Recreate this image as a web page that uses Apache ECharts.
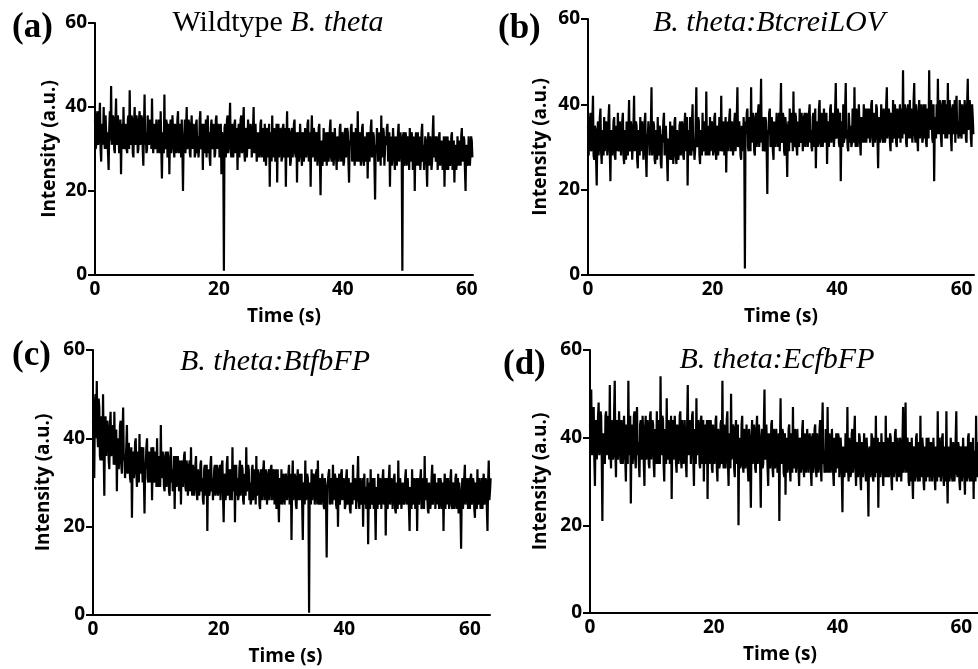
<!DOCTYPE html>
<html>
<head>
<meta charset="utf-8">
<title>Intensity traces</title>
<script src="https://cdn.jsdelivr.net/npm/echarts@6/dist/echarts.min.js"></script>
<style>
html, body { margin: 0; padding: 0; background: #fff; }
#chart { width: 978px; height: 669px; }
</style>
</head>
<body>
<div id="chart"></div>
<script>
// sampling step of every trace (s)
var DT = 0.1;
var xTicks = [0, 20, 40, 60];
var yTicks = [0, 20, 40, 60];

// (a) Wildtype B. theta
var wildtype = [
  37,30,31,38,39,31,33,37,41,30,27,36,36,31,40,32,30,38,38,30,34,29,25,35,39,
  32,45,31,32,38,37,30,29,37,42,31,33,38,38,29,31,37,24,34,36,30,40,31,30,36,
  35,30,29,37,38,30,44,32,31,38,37,29,28,36,40,31,33,38,36,29,30,37,39,31,32,
  38,37,30,26,35,43,31,34,29,30,38,38,31,32,37,36,30,42,32,29,36,35,30,31,37,
  37,29,30,37,35,29,39,30,23,33,34,29,43,30,31,37,36,28,29,36,24,34,37,29,32,
  38,38,30,28,36,35,29,31,37,39,29,30,36,34,28,37,30,20,32,33,37,29,35,40,30,
  31,37,36,29,28,35,38,30,32,36,35,28,29,36,37,29,33,28,30,37,39,30,31,36,25,
  34,36,29,33,37,28,35,38,29,34,28,26,35,37,30,31,36,35,28,29,37,38,30,32,36,
  35,28,29,36,24,34,33,29,1,35,36,28,30,37,38,29,32,36,41,30,28,36,35,28,31,
  36,37,29,29,35,25,34,36,28,33,37,38,29,30,36,40,29,27,35,34,28,31,37,37,30,
  30,36,35,28,28,35,40,29,32,36,36,27,27,34,34,28,30,36,37,28,29,35,33,27,36,
  29,26,34,35,28,31,36,21,33,34,27,38,29,28,35,33,27,30,36,22,33,36,28,31,35,
  34,27,28,35,36,28,30,35,21,32,39,28,29,35,33,26,27,34,35,28,31,36,37,29,28,
  34,22,33,34,27,30,36,36,28,26,34,33,27,29,35,35,28,31,36,37,27,28,34,21,33,
  38,28,30,35,34,27,27,34,33,26,29,35,36,27,19,31,32,26,28,35,35,27,31,34,26,
  33,34,27,30,35,37,28,27,34,32,26,29,35,35,28,25,33,33,27,30,35,36,27,28,34,
  32,26,27,34,35,28,30,35,34,27,22,32,31,35,36,27,28,34,33,26,29,35,35,27,39,
  29,27,34,32,26,30,35,36,27,26,33,33,27,29,34,23,32,34,27,31,35,37,28,28,34,
  33,26,18,31,30,35,35,27,27,34,32,26,38,28,29,35,34,26,26,33,31,35,36,27,28,
  34,21,32,33,26,30,35,35,27,25,33,32,26,29,34,36,27,27,34,31,27,1,33,34,26,
  28,34,33,26,26,33,31,25,35,27,29,34,32,25,27,33,20,31,34,26,30,34,26,32,33,
  25,28,34,36,27,31,25,25,33,32,26,21,31,34,26,29,33,33,25,27,34,38,28,30,33,
  27,33,32,25,29,33,34,26,26,32,31,25,28,33,21,31,33,25,30,33,25,32,32,26,28,
  33,34,25,29,32,22,31,31,25,27,33,33,26,30,32,26,33,35,27,29,33,32,25,20,31,
  31,26,27,33,33,26,29,33,32,28
];

// (b) B. theta:BtcreiLOV
var btcreiLOV = [
  35,28,28,36,38,29,30,36,42,28,27,35,34,27,21,33,36,28,31,37,39,29,26,34,33,
  28,37,29,29,36,35,28,31,37,40,29,22,33,34,28,30,36,37,28,27,35,33,29,38,30,
  29,36,35,28,31,36,38,28,26,34,33,27,36,29,28,35,41,29,30,36,34,27,27,35,42,
  29,31,36,35,27,25,34,33,28,37,29,29,36,34,27,30,36,38,28,23,33,32,36,36,28,
  28,35,44,28,30,36,35,27,26,34,33,27,37,28,29,35,34,26,25,33,31,36,38,28,28,
  35,35,27,22,32,32,27,36,28,27,35,33,26,30,36,37,28,26,34,34,27,29,35,36,28,
  30,36,35,28,27,35,38,29,31,37,21,33,34,28,37,29,28,36,40,29,32,27,29,36,44,
  30,31,37,36,28,26,34,34,28,38,29,30,36,35,28,43,30,28,35,33,28,37,29,29,36,
  34,28,30,37,38,29,27,35,35,28,31,37,37,29,42,30,29,36,34,28,32,37,24,33,36,
  29,33,37,39,29,30,36,35,28,28,36,38,29,32,37,44,30,31,36,36,28,27,35,34,29,
  37,30,1.5,36,33,38,39,30,29,37,36,29,44,31,31,38,35,29,28,37,38,30,33,38,40,
  30,30,37,46,31,34,29,37,30,29,37,36,29,19,34,33,38,39,30,31,37,35,29,27,36,
  36,30,30,38,38,30,33,38,29,37,45,31,32,38,37,29,28,37,35,30,23,34,36,29,39,
  31,31,38,34,29,43,31,30,38,37,30,28,36,35,30,39,31,32,38,36,29,29,37,38,30,
  33,38,37,30,30,38,40,31,34,30,29,37,38,30,35,39,25,34,36,30,32,39,41,31,30,
  38,37,30,33,39,39,31,31,38,26,35,36,30,34,39,40,31,31,38,37,30,33,39,45,32,
  33,39,38,31,30,38,22,34,36,30,40,31,32,39,45,32,34,30,29,38,38,31,35,30,31,
  39,39,31,44,32,30,39,36,30,33,40,40,31,28,37,37,31,34,40,31,38,39,31,35,39,
  32,39,38,31,35,40,41,32,30,38,36,31,33,40,39,32,25,35,37,31,34,40,40,32,31,
  39,36,31,33,40,44,32,32,39,38,31,29,38,36,31,41,32,33,40,37,31,30,39,39,32,
  35,40,31,39,38,32,48,33,33,40,37,31,30,39,40,32,35,41,32,39,39,31,34,41,45,
  33,31,40,37,32,29,38,41,32,35,40,38,31,32,40,36,32,40,31,30,39,37,32,48,34,
  34,41,38,32,31,40,22,35,37,32,40,33,46,34,33,41,38,32,30,40,41,33,35,41,32,
  40,39,32,45,34,33,41,37,32,29,39,40,33,35,41,31,40,42,33,36,32,33,41,39,33,
  32,40,40,33,35,41,38,32,31,40,46,34,34,41,39,32,30,40,37,33
];

// (c) B. theta:BtfbFP
var btfbFP = [
  44,39,31,48,50,40,53,41,38,49,47,36,35,45,42,35,50,37,27,42,45,36,36,44,41,
  35,33,43,46,36,37,42,43,34,46,35,34,42,28,40,40,33,36,43,44,34,32,41,47,35,
  36,31,31,38,43,32,34,39,39,31,30,38,22,34,37,31,33,39,40,32,29,37,36,30,41,
  32,32,38,35,30,38,31,23,33,34,38,40,31,30,37,36,30,33,38,26,35,38,30,31,37,
  35,29,40,30,29,36,36,29,43,31,31,37,34,29,28,36,37,29,32,37,35,28,27,35,38,
  30,33,28,30,36,24,33,36,29,31,36,34,28,29,35,25,33,35,29,32,36,37,29,28,35,
  33,27,29,34,35,28,38,29,27,34,32,27,30,34,36,28,26,33,33,27,29,34,35,28,31,
  26,25,33,34,27,30,34,19,31,33,27,28,34,36,28,31,26,26,33,34,27,29,34,32,27,
  27,33,34,26,30,34,35,27,21,31,32,26,28,34,36,27,30,33,26,32,33,26,38,28,29,
  34,21,31,34,27,31,26,27,33,35,27,30,34,33,26,25,32,32,27,38,28,28,34,33,26,
  30,25,26,33,34,26,29,33,32,25,36,27,27,33,31,25,24,32,33,26,29,33,35,26,28,
  33,31,25,25,32,33,26,30,33,34,26,27,33,32,25,29,33,24,31,33,26,21,31,30,25,
  33,25,27,32,31,25,25,32,32,26,29,32,34,25,26,32,17,30,35,26,28,32,31,25,24,
  31,33,26,29,32,26,31,32,25,17,29,30,25,35,26,27,32,31,26,0.5,30,29,25,33,26,
  26,32,31,25,28,32,33,25,35,26,25,31,30,25,27,32,32,25,24,31,31,26,13,29,29,
  32,33,25,26,31,30,25,34,26,27,32,31,25,24,31,20,30,32,25,28,32,33,26,26,31,
  30,24,25,31,33,25,28,31,31,24,23,30,29,25,34,26,26,31,30,24,28,31,36,26,24,
  31,31,25,27,31,20,29,32,25,29,24,26,31,16,28,30,24,33,26,25,31,29,24,31,25,
  17,29,29,24,32,25,26,31,30,24,24,31,33,25,28,31,18,28,31,24,27,31,34,25,25,
  31,30,24,28,31,32,24,23,30,29,24,35,25,26,31,31,24,24,30,30,25,27,31,33,25,
  28,31,31,24,19,29,29,24,33,25,26,31,30,24,24,31,19,29,31,25,28,31,33,24,25,
  31,29,24,36,26,27,31,31,24,23,30,30,24,26,31,34,25,28,31,32,24,24,30,29,25,
  31,24,26,31,30,24,24,30,19,29,32,24,28,31,25,31,31,24,27,31,33,25,24,30,29,
  24,26,31,32,24,28,31,23,30,30,24,15,28,31,24,27,31,34,25,25,31,30,24,28,31,
  24,31,32,25,27,31,30,24,22,30,29,24,33,25,26,31,31,24,28,31,24,30,32,25,27,
  31,30,24,19,30,35,26,28,31
];

// (d) B. theta:EcfbFP
var ecfbFP = [
  43,36,51,38,36,45,47,35,29,43,44,35,35,45,48,36,38,46,45,35,21,40,41,35,34,
  45,46,36,37,45,43,35,52,37,33,44,42,35,36,46,53,37,31,43,44,35,38,46,46,35,
  34,44,41,34,37,45,45,35,30,43,42,34,53,37,36,45,25,40,43,34,38,45,46,35,33,
  44,47,36,39,34,31,43,44,35,36,45,41,34,29,42,45,35,37,44,42,34,33,45,46,35,
  35,44,43,34,31,42,40,34,46,35,34,44,41,34,54,37,36,45,44,34,30,42,39,34,49,
  36,35,44,42,34,37,45,26,40,44,35,38,45,45,34,32,43,41,34,36,45,46,35,33,44,
  40,34,35,44,44,34,31,43,52,36,38,44,43,34,34,45,46,35,29,42,40,34,49,36,36,
  44,42,34,33,44,45,34,38,44,30,42,43,34,37,44,26,40,44,34,35,44,41,33,32,43,
  43,34,36,44,45,33,30,42,40,33,34,43,44,34,53,36,33,43,41,33,37,44,46,34,29,
  41,39,33,50,35,35,43,42,33,31,42,44,34,36,43,20,39,40,33,34,43,45,34,32,42,
  41,33,35,43,43,33,30,42,39,33,24,40,44,34,36,43,41,33,32,42,45,34,37,43,40,
  33,24,39,42,33,34,43,51,35,36,43,43,33,29,41,39,33,35,43,44,33,31,42,40,33,
  36,42,42,32,33,41,21,38,49,34,35,42,41,32,31,41,27,39,40,32,34,42,43,33,30,
  41,38,32,47,34,33,42,40,32,35,42,42,33,29,40,38,32,34,42,44,33,31,41,39,32,
  35,42,42,32,32,41,39,32,29,40,41,32,36,42,43,33,31,41,38,32,34,42,44,33,30,
  41,48,34,37,32,33,42,40,32,47,34,32,41,38,32,35,42,42,32,29,40,37,32,41,33,
  34,41,40,31,31,40,37,31,23,38,38,31,33,41,41,32,47,33,30,40,36,31,32,41,42,
  32,35,41,45,33,29,39,37,31,33,41,40,31,28,39,38,31,34,41,41,32,30,40,37,31,
  22,37,38,31,33,41,40,31,30,40,36,31,45,33,32,40,24,38,39,31,34,41,41,32,29,
  39,36,31,45,33,31,40,38,31,33,41,40,31,28,39,37,31,34,41,42,32,30,40,36,31,
  33,40,39,30,30,39,47,32,35,40,48,32,32,40,38,30,29,39,36,30,40,31,26,38,37,
  30,33,40,41,31,30,39,36,30,45,32,31,40,38,30,28,38,35,30,40,31,32,40,37,30,
  30,39,38,30,33,40,40,31,28,38,36,30,46,32,31,40,37,30,34,40,41,31,29,38,35,
  30,46,32,25,37,38,30,32,40,40,31,30,39,36,30,33,40,46,32,31,39,38,30,28,38,
  37,30,33,40,40,31,27,38,36,30,32,40,41,31,30,39,38,30,34,40,26,37,37,30,45,
  32,31,39,39,30,28,38,36,30,33,40,40,31,30,38
];

var traces = [wildtype, btcreiLOV, btfbFP, ecfbFP];
var xMax = [61, 62, 63.2, 64];

var SANS = '"Open Sans", "DejaVu Sans", sans-serif';
var SERIF = '"Liberation Serif", "Times New Roman", serif';

// panel boxes in px
var boxes = [
  {left: 95,  top: 23,  width: 378, height: 252, yGap: 36, xGap: 32, xPad: 0},
  {left: 588, top: 19,  width: 386, height: 256, yGap: 38, xGap: 32, xPad: 0},
  {left: 93,  top: 350, width: 397, height: 265, yGap: 40, xGap: 32, xPad: 12},
  {left: 590, top: 350, width: 396, height: 263, yGap: 40, xGap: 32, xPad: 16}
];

function toPoints(values) {
  return values.map(function (v, i) {
    return [Math.round(i * DT * 100) / 100, v];
  });
}

var boldText = {color: '#000', fontFamily: SANS, fontWeight: 'bold', fontSize: 19};

var chart = echarts.init(document.getElementById('chart'));

var option = {
  backgroundColor: '#fff',
  animation: false,
  grid: boxes.map(function (b) {
    return {left: b.left, top: b.top, width: b.width, height: b.height,
            containLabel: false, outerBoundsMode: 'none'};
  }),
  xAxis: boxes.map(function (b, i) {
    return {
      type: 'value', gridIndex: i, min: 0, max: xMax[i], interval: 20,
      axisLine: {show: true, onZero: false, lineStyle: {color: '#000', width: 2}},
      axisTick: {show: false},
      splitLine: {show: false},
      axisLabel: {
        margin: 5, color: '#000', fontFamily: SANS, fontWeight: 'bold', fontSize: 19,
        formatter: function (v) { return xTicks.indexOf(v) >= 0 ? String(v) : ''; }
      },
      name: 'Time (s)', nameLocation: 'middle', nameGap: b.xGap,
      nameTextStyle: Object.assign({padding: [0, b.xPad, 0, 0]}, boldText)
    };
  }),
  yAxis: boxes.map(function (b, i) {
    return {
      type: 'value', gridIndex: i, min: 0, max: 60, interval: 20,
      axisLine: {show: true, onZero: false, lineStyle: {color: '#000', width: 2}},
      axisTick: {show: true, length: 7, lineStyle: {color: '#000', width: 2}},
      splitLine: {show: false},
      axisLabel: {
        margin: 8, color: '#000', fontFamily: SANS, fontWeight: 'bold', fontSize: 19,
        formatter: function (v) { return yTicks.indexOf(v) >= 0 ? String(v) : ''; }
      },
      name: 'Intensity (a.u.)', nameLocation: 'middle', nameGap: b.yGap,
      nameTextStyle: boldText
    };
  }),
  series: traces.map(function (d, i) {
    return {
      type: 'line', xAxisIndex: i, yAxisIndex: i,
      data: toPoints(d),
      symbol: 'none', showSymbol: false, silent: true,
      lineStyle: {color: '#000', width: 2.2},
      itemStyle: {color: '#000'}
    };
  }),
  graphic: [
    {type: 'text', x: 12, y: 28, style: {text: '(a)', fill: '#000', font: 'bold 35px ' + SERIF, align: 'left', verticalAlign: 'middle'}},
    {type: 'text', x: 498, y: 29, style: {text: '(b)', fill: '#000', font: 'bold 35px ' + SERIF, align: 'left', verticalAlign: 'middle'}},
    {type: 'text', x: 12, y: 356, style: {text: '(c)', fill: '#000', font: 'bold 35px ' + SERIF, align: 'left', verticalAlign: 'middle'}},
    {type: 'text', x: 503, y: 365, style: {text: '(d)', fill: '#000', font: 'bold 35px ' + SERIF, align: 'left', verticalAlign: 'middle'}},
    {type: 'text', x: 278, y: 23, style: {
      text: '{r|Wildtype }{i|B. theta}', align: 'center', verticalAlign: 'middle',
      rich: {r: {fontFamily: SERIF, fontSize: 30, fill: '#000'},
             i: {fontFamily: SERIF, fontSize: 30, fontStyle: 'italic', fill: '#000'}}
    }},
    {type: 'text', x: 769, y: 23, style: {text: 'B. theta:BtcreiLOV', fill: '#000', font: 'italic 30px ' + SERIF, align: 'center', verticalAlign: 'middle'}},
    {type: 'text', x: 275, y: 362, style: {text: 'B. theta:BtfbFP', fill: '#000', font: 'italic 30px ' + SERIF, align: 'center', verticalAlign: 'middle'}},
    {type: 'text', x: 777, y: 360, style: {text: 'B. theta:EcfbFP', fill: '#000', font: 'italic 30px ' + SERIF, align: 'center', verticalAlign: 'middle'}}
  ]
};

chart.setOption(option);
</script>
</body>
</html>
